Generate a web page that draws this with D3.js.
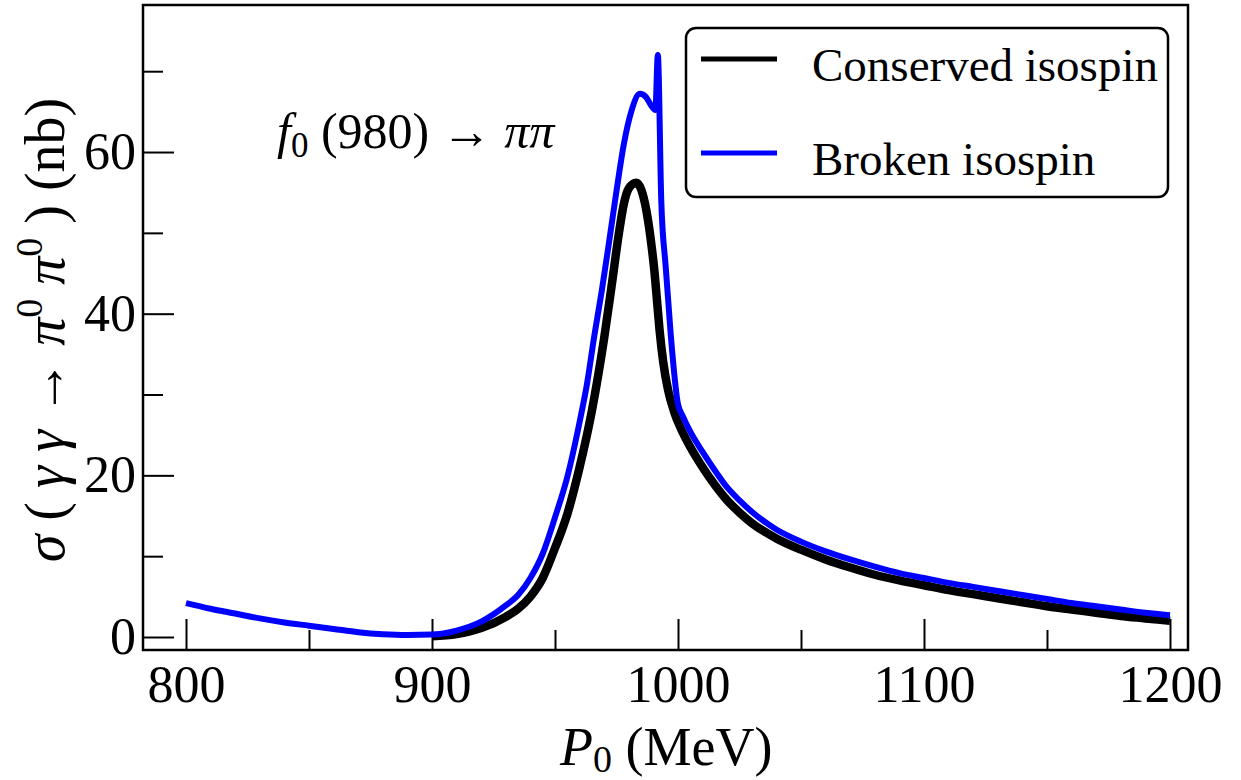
<!DOCTYPE html>
<html>
<head>
<meta charset="utf-8">
<script src="https://cdn.jsdelivr.net/npm/d3@7"></script>
<style>
  body { margin: 0; background: #fff; }
  svg text { font-family: "Liberation Serif", "DejaVu Serif", serif; fill: #000; }
</style>
</head>
<body>
<svg id="chart" width="1241" height="780"></svg>
<script>
// energies (MeV) and cross sections (nb)
var brokenE = [800, 810, 820, 830, 840, 850, 860, 870, 880, 890, 900, 910, 920, 930, 935, 940, 945, 950, 955,
  960, 963, 966, 969, 972, 975, 978, 981, 984.5, 987, 989, 990.8, 991.8, 993.2, 995, 997, 1000, 1002,
  1005, 1010, 1015, 1020, 1025, 1030, 1040, 1050, 1060, 1070, 1080, 1090, 1100, 1110, 1120, 1130, 1140,
  1150, 1160, 1170, 1180, 1190, 1200];
var brokenS = [4.2, 3.5, 2.9, 2.3, 1.8, 1.4, 1.0, 0.6, 0.35, 0.25, 0.3, 0.8, 1.9, 3.9, 5.2, 7.3, 10.3, 14.8, 19.8,
  26.6, 31.3, 37.3, 42.8, 48.9, 55.2, 61.0, 65.0, 67.2, 66.8, 65.8, 65.2, 72.0, 54.0, 45.8, 37.6, 28.8, 27.3,
  25.4, 22.9, 20.6, 18.5, 16.9, 15.5, 13.3, 11.8, 10.6, 9.6, 8.7, 7.9, 7.3, 6.7, 6.2, 5.7, 5.2,
  4.7, 4.2, 3.8, 3.4, 3.0, 2.7];

var conservedE = [900, 910, 920, 930, 935, 940, 945, 950, 955, 960, 965, 970, 973, 976, 978, 980, 983, 985,
  987, 989, 990.5, 991.5, 992.5, 994, 996, 998.5, 1001, 1005, 1010, 1015, 1020, 1025, 1030, 1040, 1050, 1060,
  1070, 1080, 1090, 1100, 1110, 1120, 1130, 1140, 1150, 1160, 1170, 1180, 1190, 1200];
var conservedS = [0.1, 0.35, 1.1, 2.5, 3.5, 5.0, 7.3, 11.0, 15.2, 21.0, 28.0, 37.0, 43.4, 50.0, 53.6, 55.5, 56.2, 55.4,
  53.0, 49.0, 45.0, 41.5, 38.0, 34.0, 30.5, 27.8, 25.9, 23.5, 21.0, 18.8, 16.9, 15.4, 14.1, 12.2, 10.8, 9.6,
  8.6, 7.7, 7.0, 6.4, 5.8, 5.3, 4.8, 4.3, 3.8, 3.4, 3.0, 2.6, 2.3, 2.0];

var xMajor = [800, 900, 1000, 1100, 1200];
var xMinor = [850, 950, 1050, 1150];
var yMajor = [0, 20, 40, 60];
var yMinor = [10, 30, 50, 70];

var seriesNames = ["Conserved isospin", "Broken isospin"];
var seriesColors = ["#000000", "#0000ff"];

var svg = d3.select("#chart");
var plotLeft = 143, plotRight = 1188, plotTop = 5, plotBottom = 650;

var x = d3.scaleLinear().domain([782.52, 1207.32]).range([plotLeft, plotRight]);
var y = d3.scaleLinear().domain([-1.608, 78.19]).range([plotBottom, plotTop]);

function drawAxis(axis, transform) {
  var g = svg.append("g").attr("transform", transform).call(axis);
  g.select(".domain").remove();
  g.selectAll(".tick line").attr("stroke", "#000").attr("stroke-width", 2);
  g.selectAll("text").style("font-size", "52px").style("font-family", "Liberation Serif");
  return g;
}

drawAxis(d3.axisBottom(x).tickValues(xMinor).tickFormat("").tickSize(-20), "translate(0," + plotBottom + ")");
drawAxis(d3.axisBottom(x).tickValues(xMajor).tickFormat(d3.format("d")).tickSize(-31).tickPadding(15), "translate(0," + plotBottom + ")");
drawAxis(d3.axisLeft(y).tickValues(yMinor).tickFormat("").tickSize(-20), "translate(" + plotLeft + ",0)");
drawAxis(d3.axisLeft(y).tickValues(yMajor).tickFormat(d3.format("d")).tickSize(-31).tickPadding(7), "translate(" + plotLeft + ",0)");

var line = d3.line().curve(d3.curveMonotoneX)
  .x(function(d) { return x(d[0]); })
  .y(function(d) { return y(d[1]); });

svg.append("path")
  .datum(d3.zip(conservedE, conservedS))
  .attr("d", line)
  .attr("fill", "none")
  .attr("stroke", seriesColors[0])
  .attr("stroke-width", 8.5)
  .attr("stroke-linejoin", "round");

svg.append("path")
  .datum(d3.zip(brokenE, brokenS))
  .attr("d", line)
  .attr("fill", "none")
  .attr("stroke", seriesColors[1])
  .attr("stroke-width", 6)
  .attr("stroke-linejoin", "miter");

// frame
svg.append("rect")
  .attr("x", plotLeft).attr("y", plotTop)
  .attr("width", plotRight - plotLeft).attr("height", plotBottom - plotTop)
  .attr("fill", "none").attr("stroke", "#000").attr("stroke-width", 2.5);

// legend
var leg = svg.append("g");
leg.append("rect")
  .attr("x", 686).attr("y", 28).attr("width", 482).attr("height", 169)
  .attr("rx", 10).attr("ry", 10)
  .attr("fill", "#fff").attr("stroke", "#000").attr("stroke-width", 2.5);
seriesNames.forEach(function(name, i) {
  var yy = 59 + i * 94;
  leg.append("line")
    .attr("x1", 701).attr("x2", 777).attr("y1", yy).attr("y2", yy)
    .attr("stroke", seriesColors[i]).attr("stroke-width", 5);
  leg.append("text")
    .attr("x", 812).attr("y", yy + 22)
    .style("font-size", "47px")
    .text(name);
});

// annotation f0(980) -> pi pi
var ann = svg.append("text").attr("x", 277).attr("y", 148).style("font-size", "50px");
ann.append("tspan").style("font-style", "italic").text("f");
ann.append("tspan").attr("dy", 9).style("font-size", "35px").text("0");
ann.append("tspan").attr("dy", -9).text(" (980) \u2192 ");
ann.append("tspan").style("font-style", "italic").text("\u03c0\u03c0");

// x label
var xl = svg.append("text").attr("x", 560).attr("y", 765).style("font-size", "54px");
xl.append("tspan").style("font-style", "italic").text("P");
xl.append("tspan").attr("dy", 7).style("font-size", "38px").text("0");
xl.append("tspan").attr("dy", -7).text(" (MeV)");

// y label
var yl = svg.append("text")
  .attr("transform", "translate(64,330) rotate(-90)")
  .attr("text-anchor", "middle")
  .style("font-size", "56px");
yl.append("tspan").style("font-style", "italic").text("\u03c3");
yl.append("tspan").text(" ( ");
yl.append("tspan").style("font-style", "italic").text("\u03b3 \u03b3");
yl.append("tspan").text(" \u2192 ");
yl.append("tspan").style("font-style", "italic").text("\u03c0");
yl.append("tspan").attr("dy", -22).style("font-size", "38px").text("0");
yl.append("tspan").attr("dy", 22).style("font-style", "italic").text(" \u03c0");
yl.append("tspan").attr("dy", -22).style("font-size", "38px").text("0");
yl.append("tspan").attr("dy", 22).text(" ) (nb)");
</script>
</body>
</html>
